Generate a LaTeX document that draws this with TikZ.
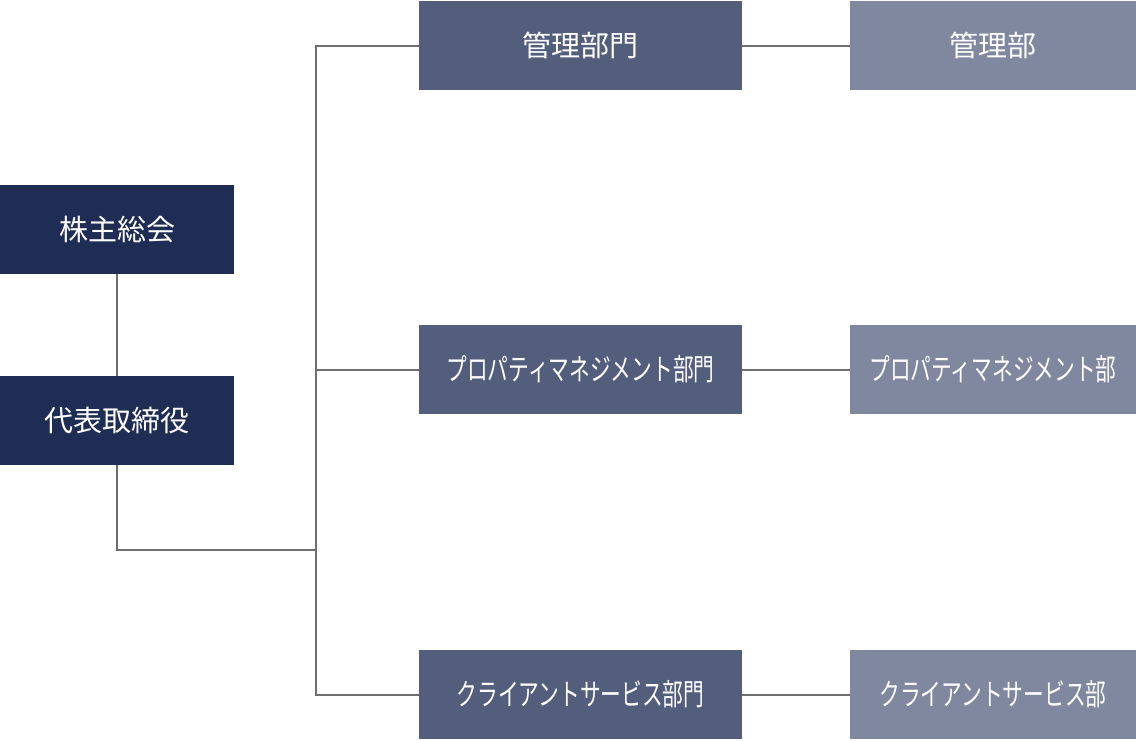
\documentclass[tikz,border=0pt]{standalone}
\usepackage{fontspec}
\usepackage{graphicx}
\newfontfamily\jp{Noto Sans CJK JP}
\definecolor{navy}{HTML}{1F2D55}
\definecolor{midblue}{HTML}{525E7C}
\definecolor{lightblue}{HTML}{80889F}
\definecolor{linegray}{HTML}{6E6E6E}
\newcommand{\kata}[1]{\scalebox{0.69}[1]{#1}}
\begin{document}
\begin{tikzpicture}[x=1pt,y=-1pt,
  box/.style={rectangle, inner sep=0pt, text=white, minimum height=89pt, font=\jp},
  topbox/.style={box, fill=navy, minimum width=234pt, font=\jp\fontsize{29}{29}\selectfont},
  divbox/.style={box, fill=midblue, minimum width=323pt, font=\jp\fontsize{29}{29}\selectfont},
  deptbox/.style={box, fill=lightblue, minimum width=286pt, font=\jp\fontsize{29}{29}\selectfont},
  katafont/.style={font=\jp\fontsize{30}{30}\selectfont},
  link/.style={draw=linegray, line width=2pt}]
\useasboundingbox (0,0) rectangle (1136,740);
\node[topbox] (agm) at (117,229.5) {株主総会};
\node[topbox] (ceo) at (117,420.5) {代表取締役};
\node[divbox] (m1) at (580.5,45.5) {管理部門};
\node[divbox, katafont] (m2) at (580.5,369.5) {\kata{プロパティマネジメント部門}};
\node[divbox, katafont] (m3) at (580.5,694.5) {\kata{クライアントサービス部門}};
\node[deptbox] (r1) at (993,45.5) {管理部};
\node[deptbox, katafont] (r2) at (993,369.5) {\kata{プロパティマネジメント部}};
\node[deptbox, katafont] (r3) at (993,694.5) {\kata{クライアントサービス部}};
\coordinate (jx) at (316,0);
\coordinate (jy) at (0,550);
\draw[link] (agm.south) -- (ceo.north);
\draw[link] (ceo.south) |- (jx |- jy);
\draw[link] (m1.west) -- (m1.west -| jx) -- (m3.west -| jx) -- (m3.west);
\draw[link] (m2.west) -- (m2.west -| jx);
\draw[link] (m1.east) -- (r1.west);
\draw[link] (m2.east) -- (r2.west);
\draw[link] (m3.east) -- (r3.west);
\end{tikzpicture}
\end{document}
